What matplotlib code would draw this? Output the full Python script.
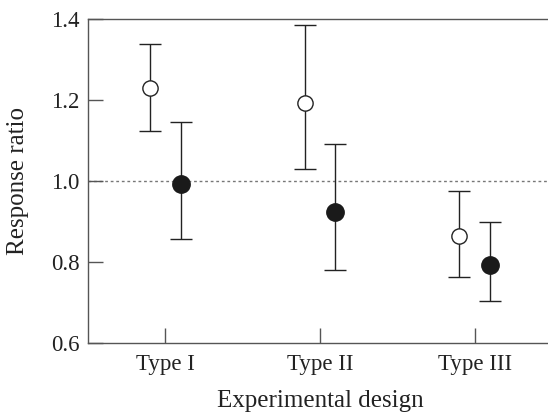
import numpy as np
import matplotlib
matplotlib.use("Agg")
import matplotlib.pyplot as plt

plt.rcParams['font.family'] = ['Liberation Serif', 'DejaVu Serif']

categories = ["Type I", "Type II", "Type III"]
open_mean = [1.228, 1.193, 0.864]
open_low = [1.122, 1.028, 0.762]
open_high = [1.337, 1.384, 0.974]
filled_mean = [0.991, 0.924, 0.793]
filled_low = [0.855, 0.779, 0.704]
filled_high = [1.146, 1.091, 0.898]

fig = plt.figure(figsize=(5.48, 4.12), dpi=100)
# right edge of the axes runs slightly past the figure (no right spine visible)
ax = fig.add_axes([88 / 548, 0.168, 464 / 548, 0.7866])

x = np.arange(1, len(categories) + 1)
off = 0.1

ax.axhline(1.0, color='#777777', lw=1.0, ls=(0, (2, 2)), zorder=1)

om = np.array(open_mean)
fm = np.array(filled_mean)
ax.errorbar(x - off, om, yerr=[om - np.array(open_low), np.array(open_high) - om],
            fmt='o', ms=11, mfc='white', mec='#222222', mew=1.0,
            ecolor='#222222', elinewidth=1.0, capsize=8, capthick=1.0, zorder=3)
ax.errorbar(x + off, fm, yerr=[fm - np.array(filled_low), np.array(filled_high) - fm],
            fmt='o', ms=12.5, mfc='#1a1a1a', mec='#1a1a1a', mew=1.0,
            ecolor='#222222', elinewidth=1.0, capsize=8, capthick=1.0, zorder=3)

ax.set_xlim(0.5, 3.5)
ax.set_ylim(0.6, 1.4)
ax.set_xticks(x)
ax.set_xticklabels(categories)
ax.set_yticks([0.6, 0.8, 1.0, 1.2, 1.4])
ax.set_yticklabels(["0.6", "0.8", "1.0", "1.2", "1.4"])

ax.tick_params(direction='in', length=11, width=1.0, color='#555555',
               labelsize=16.5, labelcolor='#222222', pad=6)
ax.tick_params(axis='x', pad=8)

ax.spines['right'].set_visible(False)
for s in ['left', 'top', 'bottom']:
    ax.spines[s].set_color('#555555')
    ax.spines[s].set_linewidth(1.0)

ax.set_xlabel("Experimental design", fontsize=18, color='#222222', va='baseline')
ax.set_ylabel("Response ratio", fontsize=18, color='#222222', va='center')
ax.xaxis.set_label_coords(232 / 464, -0.1975)
ax.yaxis.set_label_coords(-0.151, 0.5)

fig.savefig("out.png", dpi=100)
